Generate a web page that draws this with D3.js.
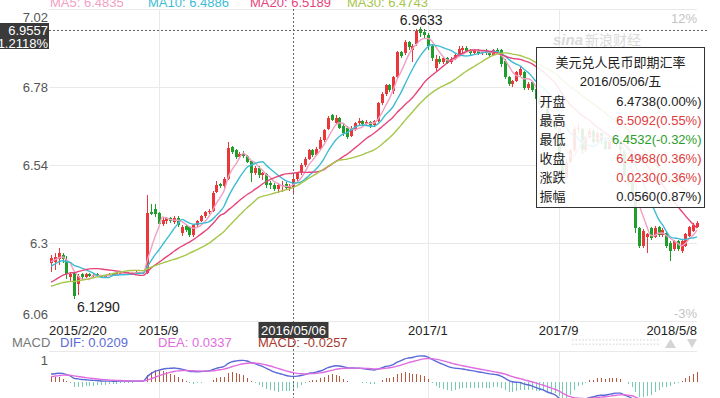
<!DOCTYPE html>
<html><head><meta charset="utf-8">
<script src="https://cdn.jsdelivr.net/npm/d3@7"></script>
<style>
html,body{margin:0;padding:0;background:#fff;overflow:hidden}
svg{display:block;font-family:Arial,"Liberation Sans","Noto Sans CJK SC",sans-serif}
</style></head><body>
<svg id="c" width="720" height="398"></svg>
<script>
// weekly closes before the first visible week (used only to warm up MA / MACD)
const priorCloses = [6.17,6.17,6.16,6.16,6.15,6.15,6.15,6.14,6.15,6.15,6.15,6.14,6.14,6.14,6.13,6.13,
  6.12,6.12,6.12,6.12,6.13,6.13,6.13,6.14,6.14,6.15,
  6.19,6.20,6.22,6.23,6.23,
  6.23,6.24,6.24,6.25];

const opens = [
6.238,6.242,6.250,6.262,6.248,6.195,6.208,6.175,6.205,6.196,
6.206,6.199,6.204,6.199,6.195,6.200,6.205,6.201,6.206,6.209,
6.206,6.209,6.207,6.210,6.208,6.209,6.395,6.405,6.392,6.358,
6.368,6.376,6.366,6.378,6.332,6.352,6.348,6.326,6.355,6.368,
6.382,6.396,6.400,6.456,6.482,6.475,6.498,6.595,6.585,6.565,
6.578,6.568,6.552,6.515,6.532,6.508,6.512,6.484,6.480,6.465,
6.476,6.482,6.468,6.4738,6.497,6.515,6.540,6.560,6.585,6.572,
6.590,6.618,6.650,6.694,6.668,6.684,6.660,6.655,6.628,6.650,
6.668,6.675,6.665,6.672,6.662,6.675,6.730,6.758,6.786,6.768,
6.810,6.888,6.885,6.918,6.895,6.912,6.958,6.948,6.940,6.905,
6.838,6.865,6.858,6.868,6.856,6.866,6.880,6.895,6.900,6.892,
6.886,6.894,6.884,6.890,6.884,6.878,6.893,6.894,6.860,6.810,
6.788,6.800,6.818,6.826,6.778,6.795,6.775,6.742,6.728,6.722,
6.670,6.678,6.655,6.560,6.500,6.550,6.585,6.650,6.650,6.585,
6.625,6.645,6.612,6.638,6.615,6.590,6.612,6.618,6.610,6.585,
6.510,6.490,6.432,6.345,6.292,6.318,6.345,6.320,6.348,6.325,
6.330,6.300,6.282,6.305,6.275,6.292,6.322,6.338,6.350];
const highs = [
6.262,6.270,6.285,6.268,6.260,6.212,6.212,6.205,6.208,6.207,
6.209,6.206,6.207,6.202,6.203,6.208,6.208,6.210,6.212,6.212,
6.212,6.211,6.213,6.212,6.212,6.448,6.420,6.420,6.396,6.378,
6.380,6.380,6.382,6.382,6.356,6.358,6.352,6.360,6.372,6.386,
6.400,6.405,6.460,6.490,6.486,6.502,6.610,6.600,6.590,6.580,
6.582,6.572,6.556,6.536,6.536,6.520,6.515,6.490,6.485,6.485,
6.490,6.488,6.482,6.5092,6.518,6.545,6.565,6.590,6.590,6.595,
6.625,6.652,6.690,6.698,6.695,6.688,6.665,6.660,6.660,6.672,
6.685,6.680,6.678,6.676,6.680,6.735,6.765,6.790,6.790,6.815,
6.892,6.892,6.925,6.922,6.912,6.958,6.9633,6.958,6.945,6.912,
6.880,6.875,6.872,6.872,6.872,6.885,6.905,6.905,6.906,6.898,
6.898,6.898,6.895,6.896,6.890,6.898,6.900,6.898,6.866,6.815,
6.802,6.830,6.842,6.830,6.795,6.800,6.780,6.748,6.735,6.725,
6.685,6.680,6.660,6.565,6.560,6.590,6.660,6.668,6.655,6.630,
6.655,6.650,6.645,6.640,6.620,6.620,6.625,6.622,6.615,6.590,
6.515,6.495,6.440,6.350,6.342,6.332,6.350,6.352,6.352,6.345,
6.338,6.305,6.310,6.310,6.312,6.332,6.352,6.362,6.368];
const lows = [
6.210,6.218,6.232,6.240,6.190,6.180,6.129,6.140,6.190,6.192,
6.196,6.196,6.196,6.192,6.193,6.198,6.199,6.199,6.203,6.203,
6.204,6.204,6.205,6.205,6.205,6.205,6.385,6.380,6.352,6.352,
6.360,6.362,6.360,6.350,6.322,6.335,6.318,6.320,6.350,6.365,
6.376,6.390,6.396,6.454,6.470,6.470,6.495,6.575,6.558,6.560,
6.562,6.545,6.488,6.510,6.500,6.495,6.470,6.465,6.460,6.455,
6.458,6.465,6.460,6.4532,6.490,6.510,6.535,6.555,6.565,6.568,
6.585,6.612,6.648,6.675,6.662,6.650,6.630,6.620,6.625,6.645,
6.660,6.660,6.660,6.655,6.658,6.672,6.726,6.752,6.765,6.760,
6.805,6.870,6.880,6.895,6.858,6.905,6.935,6.930,6.895,6.860,
6.830,6.852,6.852,6.850,6.850,6.862,6.876,6.882,6.888,6.880,
6.882,6.878,6.880,6.880,6.872,6.875,6.882,6.842,6.805,6.782,
6.780,6.796,6.812,6.772,6.772,6.765,6.738,6.725,6.715,6.665,
6.660,6.650,6.560,6.485,6.495,6.545,6.580,6.640,6.575,6.580,
6.620,6.605,6.610,6.605,6.585,6.585,6.605,6.600,6.575,6.505,
6.480,6.440,6.330,6.285,6.285,6.270,6.310,6.315,6.320,6.318,
6.285,6.245,6.275,6.275,6.268,6.288,6.318,6.334,6.346];
const closes = [
6.254,6.258,6.270,6.252,6.205,6.205,6.138,6.200,6.196,6.204,
6.199,6.203,6.198,6.195,6.200,6.205,6.201,6.207,6.209,6.206,
6.209,6.207,6.210,6.208,6.210,6.392,6.390,6.388,6.358,6.372,
6.376,6.368,6.378,6.356,6.350,6.340,6.326,6.355,6.368,6.382,
6.396,6.400,6.453,6.480,6.474,6.496,6.592,6.580,6.565,6.575,
6.568,6.550,6.515,6.532,6.508,6.515,6.480,6.478,6.465,6.478,
6.480,6.470,6.4738,6.4968,6.515,6.540,6.560,6.585,6.572,6.590,
6.618,6.648,6.686,6.678,6.684,6.655,6.640,6.625,6.655,6.668,
6.675,6.665,6.672,6.660,6.675,6.730,6.760,6.786,6.770,6.810,
6.888,6.876,6.918,6.902,6.905,6.952,6.945,6.940,6.905,6.870,
6.865,6.858,6.868,6.855,6.866,6.880,6.898,6.900,6.892,6.886,
6.894,6.884,6.890,6.884,6.878,6.893,6.886,6.850,6.812,6.788,
6.798,6.826,6.836,6.778,6.790,6.770,6.742,6.728,6.722,6.670,
6.678,6.655,6.565,6.495,6.550,6.585,6.650,6.655,6.585,6.625,
6.645,6.612,6.638,6.615,6.590,6.612,6.618,6.610,6.585,6.510,
6.490,6.448,6.345,6.292,6.336,6.328,6.315,6.345,6.325,6.340,
6.290,6.275,6.305,6.282,6.305,6.328,6.348,6.356,6.362];

const tickIdx = [0, 28, 98, 132, 168];
const tickLabels = ["2015/2/20", "2015/9", "2017/1", "2017/9", "2018/5/8"];
const priceTicks = [7.02, 6.78, 6.54, 6.3, 6.06];
const priceTickLabels = ["7.02", "6.78", "6.54", "6.3", "6.06"];
const pctLabels = ["12%", "-3%"];
const maPeriods = [5, 10, 20, 30];
const maColors = ["#f29fc3", "#3ebcd5", "#e6457c", "#a6c64c"];
const maLegend = ["MA5: 6.4835", "MA10: 6.4886", "MA20: 6.5189", "MA30: 6.4743"];
const crossIdx = 63;
const crossPrice = 6.9557;
const crossLabels = ["6.9557", "1.2118%"];
const crossDate = "2016/05/06";
const tipTitle = "美元兑人民币即期汇率";
const tipDate = "2016/05/06/五";
const tipRows = [["开盘","6.4738(0.00%)","#222"],["最高","6.5092(0.55%)","#e03c3c"],["最低","6.4532(-0.32%)","#2a9e2a"],
                 ["收盘","6.4968(0.36%)","#e03c3c"],["涨跌","0.0230(0.36%)","#e03c3c"],["振幅","0.0560(0.87%)","#222"]];
const macdLegend = [["MACD","#777"],["DIF: 0.0209","#5a6ad6"],["DEA: 0.0337","#e06ce0"],["MACD: -0.0257","#a8392c"]];
const macdTick = [0.075, "1"];

const svg = d3.select("#c");
const n = closes.length;
const all = priorCloses.concat(closes);
const off = priorCloses.length;

const x = d3.scaleLinear().domain([0, n - 1]).range([51, 697]);
const y = d3.scaleLinear().domain([6.06, 7.02]).range([321, 9]);
const yM = d3.scaleLinear().domain([-0.1, 0.1]).range([411, 353]);
const L = 49, R = 697;

// grid
const g = svg.append("g").attr("shape-rendering", "crispEdges");
g.selectAll("line.h").data(priceTicks).join("line")
  .attr("x1", L).attr("x2", R).attr("y1", d => Math.round(y(d)) + 0.5).attr("y2", d => Math.round(y(d)) + 0.5)
  .attr("stroke", "#e9e9e9");
tickIdx.slice(1, 4).forEach(i => {
  const xx = Math.round(x(i)) + 0.5;
  g.append("line").attr("x1", xx).attr("x2", xx).attr("y1", y(7.02)).attr("y2", y(6.06)).attr("stroke", "#e9e9e9");
  g.append("line").attr("x1", xx).attr("x2", xx).attr("y1", 351).attr("y2", 398).attr("stroke", "#e9e9e9");
});
g.append("line").attr("x1", L).attr("x2", R).attr("y1", 351.5).attr("y2", 351.5).attr("stroke", "#e9e9e9");

// watermark
const wm = svg.append("text").attr("x", 553).attr("y", 45).attr("fill", "#dadada").attr("font-size", 15);
wm.append("tspan").attr("font-weight", "bold").attr("font-style", "italic").text("sina");
wm.append("tspan").attr("dx", 2).attr("font-size", 14).text("新浪财经");

// candles
const up = "#e8383a", dn = "#1f9e2c";
const cg = svg.append("g").attr("shape-rendering", "crispEdges");
d3.range(n).forEach(i => {
  const o = opens[i], c = closes[i], col = c >= o ? up : dn;
  const xx = Math.round(x(i));
  cg.append("line").attr("x1", xx + 0.5).attr("x2", xx + 0.5).attr("y1", y(highs[i])).attr("y2", y(lows[i]))
    .attr("stroke", col).attr("stroke-width", 1);
  const top = y(Math.max(o, c)), bot = y(Math.min(o, c));
  cg.append("rect").attr("x", xx - 1).attr("width", 3).attr("y", top).attr("height", Math.max(1, bot - top)).attr("fill", col);
});

// moving averages
maPeriods.forEach((p, k) => {
  const ma = d3.range(n).map(i => d3.mean(all.slice(off + i - p + 1, off + i + 1)));
  svg.append("path").datum(ma)
    .attr("d", d3.line().x((d, i) => x(i)).y(d => y(d)).curve(d3.curveMonotoneX))
    .attr("fill", "none").attr("stroke", maColors[k]).attr("stroke-width", 1.4);
});

// MACD
const ema = (arr, p) => { const a = 2 / (p + 1); const out = []; arr.forEach((v, i) => out.push(i ? out[i - 1] + a * (v - out[i - 1]) : v)); return out; };
const e12 = ema(all, 12), e26 = ema(all, 26);
const difAll = all.map((v, i) => e12[i] - e26[i]);
const deaAll = ema(difAll, 9);
const dif = difAll.slice(off), dea = deaAll.slice(off);
const hist = dif.map((d, i) => 2 * (d - dea[i]));
const mg = svg.append("g").attr("shape-rendering", "crispEdges");
hist.forEach((h, i) => {
  const xx = Math.round(x(i)) + 0.5;
  mg.append("line").attr("x1", xx).attr("x2", xx).attr("y1", yM(0)).attr("y2", yM(h))
    .attr("stroke", h >= 0 ? "#b9573f" : "#78cbb3").attr("stroke-width", 1);
});
[[dif, "#5a6ad6"], [dea, "#e06ce0"]].forEach(([arr, col]) => {
  svg.append("path").datum(arr)
    .attr("d", d3.line().x((d, i) => x(i)).y(d => yM(d)).curve(d3.curveMonotoneX))
    .attr("fill", "none").attr("stroke", col).attr("stroke-width", 1.4);
});

// axes text
svg.selectAll("text.yl").data(priceTicks).join("text")
  .attr("x", 48).attr("text-anchor", "end").attr("font-size", 13).attr("fill", "#555")
  .attr("y", (d, i) => i === 0 ? y(d) + 13 : (i === priceTicks.length - 1 ? y(d) - 2 : y(d) + 5))
  .text((d, i) => priceTickLabels[i]);
svg.append("text").attr("x", R).attr("y", y(7.02) + 14).attr("text-anchor", "end").attr("font-size", 13).attr("fill", "#c4c4c4").text(pctLabels[0]);
svg.append("text").attr("x", R).attr("y", y(6.06) - 3).attr("text-anchor", "end").attr("font-size", 13).attr("fill", "#c4c4c4").text(pctLabels[1]);
tickIdx.forEach((t, i) => {
  svg.append("text").attr("x", i === 0 ? L : (i === tickIdx.length - 1 ? R : x(t)))
    .attr("y", 335).attr("font-size", 13).attr("fill", "#222")
    .attr("text-anchor", i === 0 ? "start" : (i === tickIdx.length - 1 ? "end" : "middle"))
    .text(tickLabels[i]);
});

// MA legend
const maX = [50, 148, 250, 347];
maLegend.forEach((t, k) => svg.append("text").attr("x", maX[k]).attr("y", 7).attr("font-size", 13).attr("fill", maColors[k]).text(t));

// MACD legend
const mlX = [12, 60, 158, 258];
macdLegend.forEach(([t, col], k) => svg.append("text").attr("x", mlX[k]).attr("y", 347).attr("font-size", 13).attr("fill", col).text(t));
svg.append("text").attr("x", 48).attr("y", yM(macdTick[0]) + 5).attr("text-anchor", "end").attr("font-size", 13).attr("fill", "#555").text(macdTick[1]);

// scroll control
const sc = svg.append("g").attr("fill", "#e2e2e2");
d3.range(572, 658, 3.4).forEach(xx => { sc.append("rect").attr("x", xx).attr("y", 339).attr("width", 1.6).attr("height", 1.6); sc.append("rect").attr("x", xx).attr("y", 343.5).attr("width", 1.6).attr("height", 1.6); });
svg.append("path").attr("d", "M665,348 L670.5,339 L676,348 Z").attr("fill", "#d4d4d4");
svg.append("path").attr("d", "M687,339 L697,339 L692,348 Z").attr("fill", "#d4d4d4");

// high / low marks
const hiI = d3.maxIndex(highs), loI = d3.minIndex(lows);
svg.append("text").attr("x", x(hiI) + 1).attr("y", y(highs[hiI]) - 2).attr("text-anchor", "middle").attr("font-size", 14).attr("fill", "#222").text(highs[hiI].toFixed(4));
svg.append("text").attr("x", x(loI) + 3).attr("y", y(lows[loI]) + 13).attr("font-size", 14).attr("fill", "#222").text(lows[loI].toFixed(4));

// crosshair
const cx = Math.round(x(crossIdx)) + 0.5, cy = Math.round(y(crossPrice)) + 0.5;
svg.append("line").attr("x1", cx).attr("x2", cx).attr("y1", y(7.02)).attr("y2", 398).attr("stroke", "#666").attr("stroke-dasharray", "2,2");
svg.append("line").attr("x1", L).attr("x2", 708).attr("y1", cy).attr("y2", cy).attr("stroke", "#666").attr("stroke-dasharray", "2,2");
svg.append("rect").attr("x", 0).attr("y", cy - 7.5).attr("width", 49).attr("height", 26).attr("fill", "#3a3a3a");
svg.append("text").attr("x", 48).attr("y", cy + 4.5).attr("text-anchor", "end").attr("font-size", 13).attr("fill", "#fff").text(crossLabels[0]);
svg.append("text").attr("x", 48).attr("y", cy + 17).attr("text-anchor", "end").attr("font-size", 13).attr("fill", "#fff").text(crossLabels[1]);
svg.append("rect").attr("x", cx - 35).attr("y", 322).attr("width", 70).attr("height", 16).attr("fill", "#3a3a3a");
svg.append("text").attr("x", cx).attr("y", 334.5).attr("text-anchor", "middle").attr("font-size", 13).attr("fill", "#fff").text(crossDate);

// tooltip
const tx = 536.5, ty = 47.5, tw = 168, th = 160;
svg.append("rect").attr("x", tx).attr("y", ty).attr("width", tw).attr("height", th)
  .attr("fill", "#fff").attr("fill-opacity", 0.88).attr("stroke", "#333").attr("stroke-width", 1);
svg.append("text").attr("x", tx + tw / 2).attr("y", ty + 19).attr("text-anchor", "middle").attr("font-size", 13).attr("fill", "#222").text(tipTitle);
svg.append("text").attr("x", tx + tw / 2).attr("y", ty + 38).attr("text-anchor", "middle").attr("font-size", 13).attr("fill", "#222").text(tipDate);
tipRows.forEach(([k, v, col], r) => {
  const yy = ty + 58 + r * 19;
  svg.append("text").attr("x", tx + 3).attr("y", yy).attr("font-size", 13).attr("fill", "#222").text(k);
  svg.append("text").attr("x", tx + tw - 3).attr("y", yy).attr("text-anchor", "end").attr("font-size", 13).attr("fill", col).text(v);
});
</script>
</body></html>
